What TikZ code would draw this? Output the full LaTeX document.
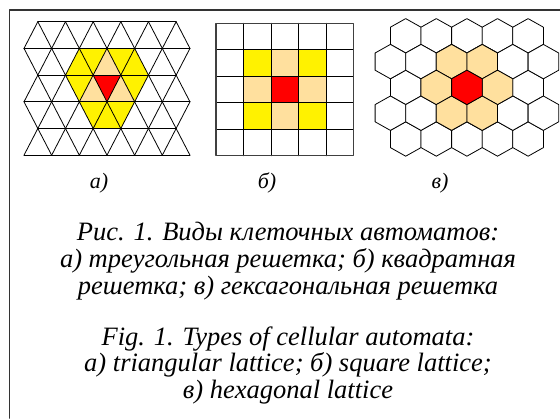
\documentclass[tikz,border=0pt]{standalone}
\usepackage{fontspec}
\setmainfont{Liberation Serif}
\definecolor{peach}{RGB}{255,224,158}
\tikzset{
	latline/.style={draw=black, line width=0.8pt},
	framerule/.style={draw=black!80, line width=1.6pt},
	lbl/.style={font=\fontsize{22}{24}\selectfont\itshape},
	captext/.style={font=\fontsize{26.5}{26.6}\selectfont\itshape, align=center, anchor=base, inner sep=0pt},
}
\newcommand{\hexcell}[3]{\filldraw[latline, fill=#1] (#2,#3) +(0,-17.2) -- +(15.3,-8.6) -- +(15.3,8.6) -- +(0,17.2) -- +(-15.3,8.6) -- +(-15.3,-8.6) -- cycle;}
\begin{document}
\begin{tikzpicture}[x=1pt, y=-1pt, line join=round, line cap=round]
			\useasboundingbox (0,0) rectangle (560,418);
			%%%%%%%%%%%%%%%%%%%%%%%%%%%%%%%%%
			\draw[framerule] (9.5,418) -- (9.5,10) -- (560,10);
			%%%%%%%%%%%%%%%%%%%%%%%%%%%%%%%%%
			% triangular lattice
			\begin{scope}[shift={(24,21.7)}, x=13.83pt, y=-26.7pt]
				\fill[yellow] (4,1) -- (8,1) -- (9,2) -- (8,3) -- (7,4) -- (5,4) -- (4,3) -- (3,2) -- cycle;
				\fill[peach] (6,1) -- (5,2) -- (7,2) -- cycle;
				\fill[peach] (5,2) -- (4,3) -- (6,3) -- cycle;
				\fill[peach] (7,2) -- (6,3) -- (8,3) -- cycle;
				\fill[red] (5,2) -- (7,2) -- (6,3) -- cycle;
				\foreach \j in {0,...,5}{
					\pgfmathtruncatemacro\ka{mod(\j+1,2)}
					\pgfmathtruncatemacro\kb{12-\ka}
					\draw[latline] (\ka,\j) -- (\kb,\j);
				}
				\foreach \j in {0,...,4}
				\foreach \k in {0,...,11}{
					\pgfmathtruncatemacro\ra{\j+mod(\k+\j+1,2)}
					\pgfmathtruncatemacro\rb{\j+mod(\k+\j,2)}
					\draw[latline] (\k,\ra) -- (\k+1,\rb);
				}
			\end{scope}
			%%%%%%%%%%%%%%%%%%%%%%%%%%%%%%%%%
			% square lattice
			\begin{scope}[shift={(216,23.3)}, x=27.5pt, y=-26.5pt]
				\foreach \c in {(1,1),(3,1),(1,3),(3,3)} \fill[yellow] \c rectangle +(1,1);
				\foreach \c in {(2,1),(1,2),(3,2),(2,3)} \fill[peach] \c rectangle +(1,1);
				\fill[red] (2,2) rectangle (3,3);
				\foreach \n in {1,...,4}{
					\draw[latline] (\n,0) -- (\n,5);
					\draw[latline] (0,\n) -- (5,\n);
				}
				\draw[latline, draw=black!75, line width=1.2pt] (0,0) rectangle (5,5);
			\end{scope}
			%%%%%%%%%%%%%%%%%%%%%%%%%%%%%%%%%
			% hexagonal lattice
			\foreach \j in {0,2,4} \foreach \i in {0,...,4} {\hexcell{white}{405.7+30.6*\i}{35.8+25.8*\j}}
			\foreach \j in {1,3} \foreach \i in {0,...,5} {\hexcell{white}{390.4+30.6*\i}{35.8+25.8*\j}}
			\hexcell{peach}{451.6}{61.6}
			\hexcell{peach}{482.2}{61.6}
			\hexcell{peach}{436.3}{87.4}
			\hexcell{peach}{497.5}{87.4}
			\hexcell{peach}{451.6}{113.2}
			\hexcell{peach}{482.2}{113.2}
			\hexcell{red}{466.9}{87.4}
			%%%%%%%%%%%%%%%%%%%%%%%%%%%%%%%%%
			\node[lbl] (la) at (99,183) {а)};
			\node[lbl] (lb) at (267,183) {б)};
			\node[lbl] (lv) at (440,183) {в)};
			%%%%%%%%%%%%%%%%%%%%%%%%%%%%%%%%%
			\node[captext] (capru) at (288,294) {Рис. 1. Виды клеточных автоматов:\\ а) треугольная решетка; б) квадратная\\ решетка; в) гексагональная решетка};
			\node[captext] (capen) at (288,398.5) {Fig. 1. Types of cellular automata:\\ a) triangular lattice; б) square lattice;\\ в) hexagonal lattice};
			%%%%%%%%%%%%%%%%%%%%%%%%%%%%%%%%%
		\end{tikzpicture}
\end{document}
